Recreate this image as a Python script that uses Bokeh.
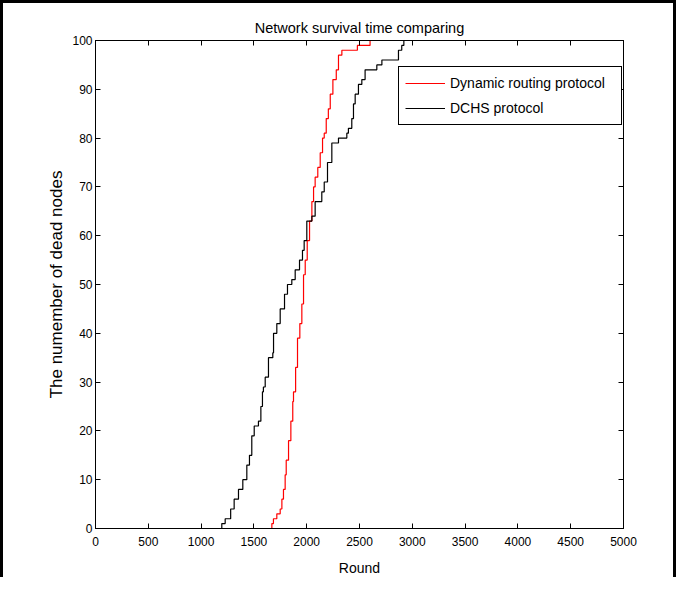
from bokeh.plotting import figure
from bokeh.models import LinearAxis, FixedTicker, Range1d, Legend, LegendItem
from bokeh.embed import file_html
from bokeh.resources import INLINE

# ---- data ----
dyn_rounds = [0, 1670, 1685, 1717, 1749, 1765, 1780, 1796, 1806, 1828, 1850, 1868, 1875,
              1895, 1913, 1935, 1954, 1970, 1986, 2005, 2027, 2049, 2065, 2080, 2105, 2128,
              2150, 2166, 2185, 2205, 2223, 2248, 2280, 2301, 2333, 2480, 2600, 5000]
dyn_dead = [0, 1, 2, 3, 4, 6, 8, 11, 14, 18, 22, 26, 28,
            33, 39, 42, 46, 52, 55, 59, 63, 67, 70, 72, 74, 77,
            80, 81, 84, 86, 89, 92, 94, 97, 98, 99, 100, 100]

dchs_rounds = [0, 1196, 1228, 1280, 1313, 1354, 1395, 1433, 1458, 1480, 1503, 1543, 1566,
               1581, 1590, 1607, 1638, 1679, 1686, 1717, 1749, 1790, 1818, 1859, 1891, 1932,
               1960, 1976, 2001, 2049, 2080, 2143, 2166, 2197, 2238, 2301, 2380, 2395, 2427,
               2443, 2459, 2490, 2522, 2553, 2664, 2712, 2869, 2900, 2920, 5000]
dchs_dead = [0, 1, 2, 4, 6, 8, 10, 13, 15, 19, 21, 22, 25,
             28, 29, 31, 35, 36, 40, 42, 45, 48, 50, 51, 53, 55,
             57, 59, 63, 64, 67, 69, 71, 75, 79, 80, 81, 82, 84,
             87, 89, 91, 92, 94, 95, 96, 98, 99, 100, 100]

x_ticks = [0, 500, 1000, 1500, 2000, 2500, 3000, 3500, 4000, 4500, 5000]
y_ticks = [0, 10, 20, 30, 40, 50, 60, 70, 80, 90, 100]

FONT = "Liberation Sans"

p = figure(width=676, height=577, output_backend="svg", toolbar_location=None,
           x_range=Range1d(0, 5000), y_range=Range1d(0, 100),
           min_border_left=92, min_border_right=56, min_border_top=37, min_border_bottom=52,
           title="Network survival time comparing")
p.styles = {"border-left": "3px solid black", "border-top": "3px solid black",
            "border-right": "3px solid black"}

p.title.text_font = FONT
p.title.text_font_size = "14.5px"
p.title.text_font_style = "normal"
p.title.align = "center"
p.title.text_color = "black"

p.xgrid.visible = False
p.ygrid.visible = False
p.outline_line_color = "black"
p.outline_line_alpha = 1
p.background_fill_color = "white"
p.border_fill_color = "white"

def style_axis(ax, ticks, show_labels):
    ax.ticker = FixedTicker(ticks=ticks)
    ax.major_tick_in = 5
    ax.major_tick_out = 0
    ax.minor_tick_in = 0
    ax.minor_tick_out = 0
    ax.axis_line_color = "black"
    ax.major_tick_line_color = "black"
    ax.major_label_text_font = FONT
    if show_labels:
        ax.major_label_text_font_size = "12px"
        ax.major_label_text_color = "black"
    else:
        ax.major_label_text_font_size = "1px"
        ax.major_label_text_color = None
        ax.major_label_standoff = 0

style_axis(p.xaxis[0], x_ticks, True)
style_axis(p.yaxis[0], y_ticks, True)
p.xaxis[0].major_label_standoff = 8
p.yaxis[0].major_label_standoff = 3
p.xaxis[0].axis_label = "Round"
p.yaxis[0].axis_label = "The numember of dead nodes"
for ax in (p.xaxis[0], p.yaxis[0]):
    ax.axis_label_text_font = FONT
    ax.axis_label_text_font_style = "normal"
    ax.axis_label_text_color = "black"
p.xaxis[0].axis_label_text_font_size = "14px"
p.yaxis[0].axis_label_text_font_size = "17px"
p.xaxis[0].axis_label_standoff = 11
p.yaxis[0].axis_label_standoff = 3

top_ax = LinearAxis(axis_label=None)
right_ax = LinearAxis(axis_label=None)
style_axis(top_ax, x_ticks, False)
style_axis(right_ax, y_ticks, False)
p.add_layout(top_ax, "above")
p.add_layout(right_ax, "right")

r_dyn = p.step(dyn_rounds, dyn_dead, mode="after", line_color="#ff0000", line_width=1.2)
r_dchs = p.step(dchs_rounds, dchs_dead, mode="after", line_color="black", line_width=1.2)

legend = Legend(items=[LegendItem(label="Dynamic routing protocol", renderers=[r_dyn]),
                       LegendItem(label="DCHS protocol", renderers=[r_dchs])],
                location=(303, 403))
legend.label_text_font = FONT
legend.label_text_font_size = "14px"
legend.label_text_color = "black"
legend.border_line_color = "black"
legend.border_line_width = 1
legend.border_line_alpha = 1
legend.background_fill_alpha = 1
legend.glyph_width = 40
legend.glyph_height = 20
legend.label_height = 20
legend.label_width = 165
legend.spacing = 5
legend.padding = 6
legend.margin = 0
legend.label_standoff = 5
p.add_layout(legend)

open("out.html", "w").write(file_html(p, INLINE))
